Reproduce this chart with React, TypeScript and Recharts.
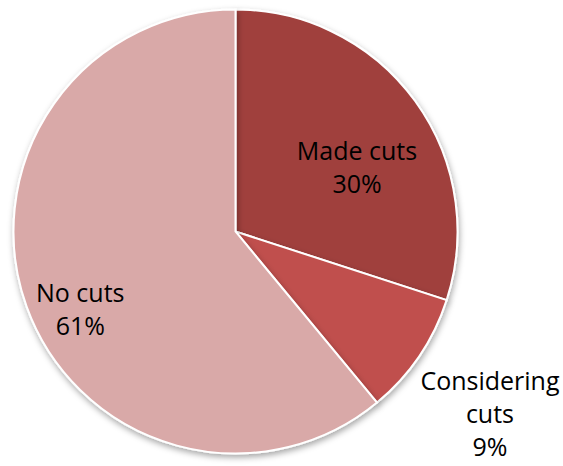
import { PieChart, Pie, Cell } from "recharts";

const categories = ["Made cuts", "Considering cuts", "No cuts"];
const shares = [30, 9, 61];
const labelLines = [["Made cuts"], ["Considering", "cuts"], ["No cuts"]];

const colors = ["#A0403E", "#C0504D", "#D9A9A8"];

// per-slice tweak of where the label sits relative to the slice middle
const labelRadius = [0.62, 1.408, 0.78];
const labelTurn = [-8, -1.3, 6.5];

const data = categories.map((name, i) => ({ name, value: shares[i] }));

const RADIAN = Math.PI / 180;

const renderLabel = (props: any) => {
    const { cx, cy, midAngle, outerRadius, index, value } = props;
    const r = outerRadius * labelRadius[index];
    const a = (midAngle + labelTurn[index]) * RADIAN;
    const x = cx + r * Math.cos(a);
    const y = cy - r * Math.sin(a);
    const lines = [...labelLines[index], `${value}%`];
    const lh = 33;
    const top = y - ((lines.length - 1) * lh) / 2;
    return (
        <text
            x={x}
            y={top}
            textAnchor="middle"
            dominantBaseline="central"
            fill="#000"
            fontSize={25}
            fontFamily="'Open Sans', sans-serif"
        >
            {lines.map((l, i) => (
                <tspan key={i} x={x} y={top + i * lh}>
                    {l}
                </tspan>
            ))}
        </text>
    );
};

const App = () => {
    return (
        <div style={{ position: "absolute", left: 0, top: 0, background: "#fff" }}>
            <PieChart width={563} height={466} margin={{ top: 0, right: 0, bottom: 0, left: 0 }}>
                <defs>
                    <filter id="shadow" x="-10%" y="-10%" width="120%" height="120%">
                        <feDropShadow dx="1" dy="3" stdDeviation="3" floodColor="#000" floodOpacity="0.35" />
                    </filter>
                </defs>
                <Pie
                    data={data}
                    dataKey="value"
                    nameKey="name"
                    cx={235.5}
                    cy={231.5}
                    outerRadius={222}
                    startAngle={90}
                    endAngle={-270}
                    stroke="#fff"
                    strokeWidth={2}
                    label={renderLabel}
                    labelLine={false}
                    isAnimationActive={false}
                    style={{ filter: "url(#shadow)" }}
                >
                    {data.map((d, i) => (
                        <Cell key={d.name} fill={colors[i]} />
                    ))}
                </Pie>
            </PieChart>
        </div>
    );
};

export default App;
